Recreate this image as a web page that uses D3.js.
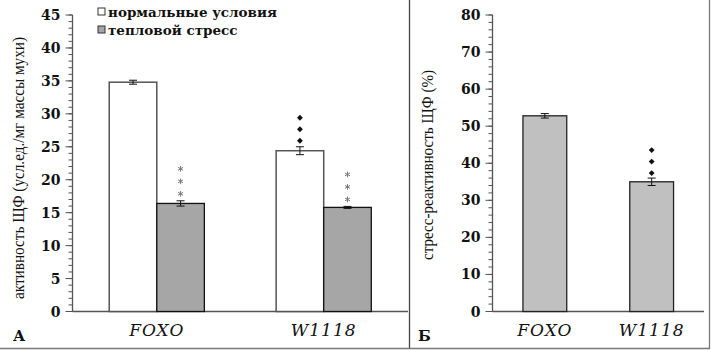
<!DOCTYPE html>
<html>
<head>
<meta charset="utf-8">
<script src="https://cdn.jsdelivr.net/npm/d3@7"></script>
<style>
  body { margin: 0; background: white; }
  svg text { font-family: "DejaVu Serif", serif; }
</style>
</head>
<body>
<div id="container"></div>
<script>
let w = 711;
let h = 351;

// data
let strains = ["FOXO", "W1118"];
let seriesNames = ["нормальные условия", "тепловой стресс"];
let normalVals = [34.8, 24.4];
let normalErr = [0.3, 0.6];
let stressVals = [16.4, 15.8];
let stressErr = [0.4, 0.15];
let reactVals = [52.8, 35.0];
let reactErr = [0.6, 1.0];
let ticksA = [0, 5, 10, 15, 20, 25, 30, 35, 40, 45];
let ticksB = [0, 10, 20, 30, 40, 50, 60, 70, 80];

let viz = d3.select("#container")
  .append("svg")
    .attr("width", w)
    .attr("height", h)
    .style("background-color", "white")
;

// frame lines
viz.append("line").attr("x1", 409.5).attr("x2", 409.5).attr("y1", 0).attr("y2", 349)
  .attr("stroke", "#444").attr("stroke-width", 1.3);
viz.append("line").attr("x1", 0).attr("x2", 710).attr("y1", 348.5).attr("y2", 348.5)
  .attr("stroke", "#777").attr("stroke-width", 1.3);
viz.append("line").attr("x1", 709.5).attr("x2", 709.5).attr("y1", 0).attr("y2", 349)
  .attr("stroke", "#777").attr("stroke-width", 1.3);

function drawAxis(g, xLeft, xRight, yScale, ticks, minorStep) {
  let minor = d3.range(ticks[0], ticks[ticks.length - 1] + 0.001, minorStep);
  g.selectAll(".minor").data(minor).enter().append("line")
    .attr("x1", xLeft - 4).attr("x2", xLeft)
    .attr("y1", d => yScale(d)).attr("y2", d => yScale(d))
    .attr("stroke", "#555").attr("stroke-width", 1);
  g.selectAll(".major").data(ticks).enter().append("line")
    .attr("x1", xLeft - 7).attr("x2", xLeft)
    .attr("y1", d => yScale(d)).attr("y2", d => yScale(d))
    .attr("stroke", "#555").attr("stroke-width", 1);
  g.selectAll(".tl").data(ticks).enter().append("text")
    .text(d => d)
    .attr("x", xLeft - 12).attr("y", d => yScale(d) + 5)
    .attr("text-anchor", "end")
    .attr("font-size", 14)
    .attr("font-weight", "bold")
    .attr("fill", "#111");
  g.append("line").attr("x1", xLeft).attr("x2", xLeft)
    .attr("y1", yScale(ticks[ticks.length - 1])).attr("y2", yScale(0))
    .attr("stroke", "#555").attr("stroke-width", 1.3);
  g.append("line").attr("x1", xLeft).attr("x2", xRight)
    .attr("y1", yScale(0)).attr("y2", yScale(0))
    .attr("stroke", "#555").attr("stroke-width", 1.3);
}

function errBar(g, x, top, bottom) {
  g.append("line").attr("x1", x).attr("x2", x).attr("y1", top).attr("y2", bottom)
    .attr("stroke", "#111").attr("stroke-width", 1);
  g.append("line").attr("x1", x - 4).attr("x2", x + 4).attr("y1", top).attr("y2", top)
    .attr("stroke", "#111").attr("stroke-width", 1);
  g.append("line").attr("x1", x - 4).attr("x2", x + 4).attr("y1", bottom).attr("y2", bottom)
    .attr("stroke", "#111").attr("stroke-width", 1);
}

function diamonds(g, x, ys) {
  g.selectAll(null).data(ys).enter().append("path")
    .attr("d", d3.symbol().type(d3.symbolDiamond2).size(22))
    .attr("transform", y => "translate(" + x + "," + y + ")")
    .attr("fill", "#111");
}

function stars(g, x, ys) {
  g.selectAll(null).data(ys).enter().append("path")
    .attr("d", d3.symbol().type(d3.symbolAsterisk).size(22))
    .attr("transform", y => "translate(" + x + "," + y + ")")
    .attr("fill", "none").attr("stroke", "#777").attr("stroke-width", 1);
}

// ---------- panel A ----------
let gA = viz.append("g");
let yA = d3.scaleLinear().domain([0, 45]).range([311.5, 15]);
let xA = d3.scaleBand().domain(strains).range([72.5, 408]).paddingInner(0.43).paddingOuter(0.22);
let bw = xA.bandwidth() / 2;

drawAxis(gA, 72.5, 408, yA, ticksA, 1);

gA.selectAll(".nb").data(strains).enter().append("rect")
  .attr("x", d => xA(d)).attr("y", (d, i) => yA(normalVals[i]))
  .attr("width", bw).attr("height", (d, i) => yA(0) - yA(normalVals[i]))
  .attr("fill", "white").attr("stroke", "#555").attr("stroke-width", 1.5);
gA.selectAll(".sb").data(strains).enter().append("rect")
  .attr("x", d => xA(d) + bw).attr("y", (d, i) => yA(stressVals[i]))
  .attr("width", bw).attr("height", (d, i) => yA(0) - yA(stressVals[i]))
  .attr("fill", "#a6a6a6").attr("stroke", "#111").attr("stroke-width", 1.3);

strains.forEach(function(s, i) {
  errBar(gA, xA(s) + bw / 2, yA(normalVals[i] + normalErr[i]), yA(normalVals[i] - normalErr[i]));
  errBar(gA, xA(s) + bw * 1.5, yA(stressVals[i] + stressErr[i]), yA(stressVals[i] - stressErr[i]));
  let top = yA(stressVals[i] + stressErr[i]);
  stars(gA, xA(s) + bw * 1.5, [top - 7, top - 19.5, top - 32]);
});
let wTop = yA(normalVals[1] + normalErr[1]);
diamonds(gA, xA("W1118") + bw / 2, [wTop - 6, wTop - 17.5, wTop - 29]);

gA.selectAll(".xl").data(strains).enter().append("text")
  .text(d => d)
  .attr("x", d => xA(d) + bw).attr("y", 336)
  .attr("text-anchor", "middle")
  .attr("font-size", 17).attr("font-style", "italic")
  .attr("letter-spacing", 1)
  .attr("fill", "#111");

gA.append("text").text("А").attr("x", 13).attr("y", 341)
  .attr("font-size", 15).attr("font-weight", "bold").attr("fill", "#111");

gA.append("text").text("активность ЩФ (усл.ед./мг массы мухи)")
  .attr("transform", "translate(24,168) rotate(-90)")
  .attr("text-anchor", "middle")
  .style("font-family", "'Liberation Serif', serif")
  .attr("font-size", 16)
  .attr("textLength", 262).attr("lengthAdjust", "spacingAndGlyphs")
  .attr("fill", "#111");

// legend
let legColors = ["white", "#a6a6a6"];
let leg = gA.selectAll(".leg").data(seriesNames).enter().append("g")
  .attr("transform", (d, i) => "translate(98," + (8 + i * 18) + ")");
leg.append("rect").attr("width", 7).attr("height", 7)
  .attr("fill", (d, i) => legColors[i]).attr("stroke", "#333").attr("stroke-width", 1);
leg.append("text").text(d => d).attr("x", 10).attr("y", 8.5)
  .attr("font-size", 13.5).attr("font-weight", "bold").attr("fill", "#111");

// ---------- panel B ----------
let gB = viz.append("g");
let yB = d3.scaleLinear().domain([0, 80]).range([311.5, 15]);
let xB = d3.scaleBand().domain(strains).range([492.5, 704]).paddingInner(0.59).paddingOuter(0.285);

drawAxis(gB, 492.5, 704, yB, ticksB, 2);

gB.selectAll(".rb").data(strains).enter().append("rect")
  .attr("x", d => xB(d)).attr("y", (d, i) => yB(reactVals[i]))
  .attr("width", xB.bandwidth()).attr("height", (d, i) => yB(0) - yB(reactVals[i]))
  .attr("fill", "#c0c0c0").attr("stroke", "#222").attr("stroke-width", 1.3);

strains.forEach(function(s, i) {
  errBar(gB, xB(s) + xB.bandwidth() / 2, yB(reactVals[i] + reactErr[i]), yB(reactVals[i] - reactErr[i]));
});
let rTop = yB(reactVals[1] + reactErr[1]);
diamonds(gB, xB("W1118") + xB.bandwidth() / 2, [rTop - 5, rTop - 16.5, rTop - 28]);

gB.selectAll(".xl").data(strains).enter().append("text")
  .text(d => d)
  .attr("x", d => xB(d) + xB.bandwidth() / 2).attr("y", 336)
  .attr("text-anchor", "middle")
  .attr("font-size", 17).attr("font-style", "italic")
  .attr("letter-spacing", 1)
  .attr("fill", "#111");

gB.append("text").text("Б").attr("x", 418).attr("y", 341)
  .attr("font-size", 15).attr("font-weight", "bold").attr("fill", "#111");

gB.append("text").text("стресс-реактивность ЩФ (%)")
  .attr("transform", "translate(433,165) rotate(-90)")
  .attr("text-anchor", "middle")
  .style("font-family", "'Liberation Serif', serif")
  .attr("font-size", 16)
  .attr("textLength", 190).attr("lengthAdjust", "spacingAndGlyphs")
  .attr("fill", "#111");
</script>
</body>
</html>
